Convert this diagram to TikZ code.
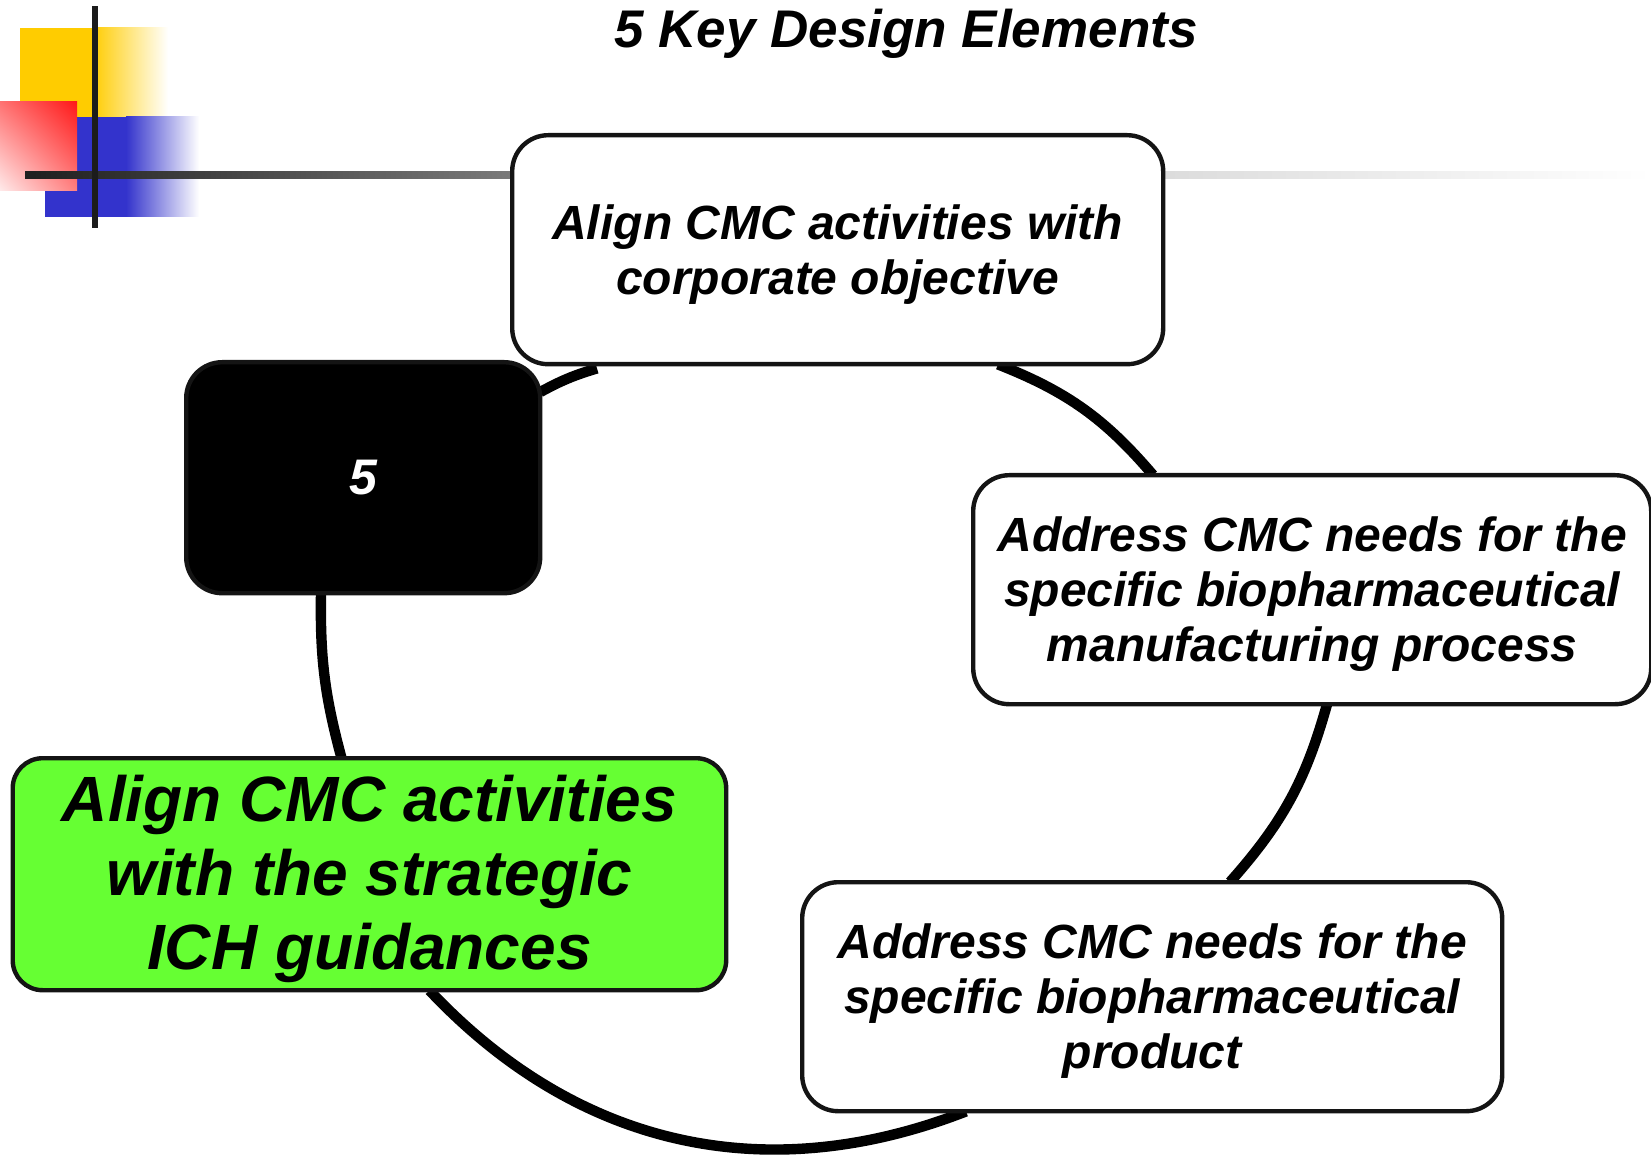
\documentclass[tikz,border=0pt]{standalone}
\usepackage{fontspec}
\setmainfont{Liberation Sans}
\usetikzlibrary{calc,backgrounds,shadings}
\definecolor{dyellow}{RGB}{255,204,0}
\definecolor{dblue}{RGB}{51,51,204}
\definecolor{dred}{RGB}{255,25,25}
\definecolor{dgreen}{RGB}{102,255,51}
\definecolor{dline}{RGB}{28,28,28}
\definecolor{boxline}{RGB}{20,20,20}
\newcommand{\firstup}[1]{\rule{0pt}{#1}}
\tikzset{
  stagebox/.style={draw=boxline, line width=2.2pt, fill=white, rounded corners=18pt,
    anchor=north west, inner sep=0pt, align=center,
    font=\fontsize{24}{27.5}\selectfont\bfseries\itshape},
  ring/.style={line width=5.2pt, draw=black},
}
\begin{document}
\begin{tikzpicture}[x=0.5pt,y=-0.5pt]
\useasboundingbox (0,0) rectangle (1651,1155);
% decoration top-left
\fill[dyellow] (20,28) rectangle (92,117);
\shade[left color=dyellow, right color=white] (92,28) rectangle (168,117);
\fill[dblue] (45,117) rectangle (126,217);
\shade[left color=dblue, right color=white] (126,117) rectangle (199,217);
\shade[upper right=dred, upper left=red!55!white, lower right=red!50!white, lower left=red!8!white] (0,102) rectangle (77,191);
\shade[left color=black!88, right color=black!52] (25,171.5) rectangle (512,178.5);
\shade[left color=black!14, right color=white] (1158,171.5) rectangle (1651,178.5);
\fill[dline] (92,6) rectangle (98,228);
% title
\node[anchor=base, font=\fontsize{26.5}{30}\selectfont\bfseries\itshape] (title) at (906,48) {5 Key Design Elements};
% boxes
\node[stagebox, minimum width=325.5pt, minimum height=114.5pt] (top) at (510,133)
  {\firstup{22pt}Align CMC activities with\\corporate objective};
\node[stagebox, minimum width=339pt, minimum height=114.5pt] (right) at (971,473)
  {\firstup{22pt}Address CMC needs for the\\specific biopharmaceutical\\manufacturing process};
\node[stagebox, minimum width=350pt, minimum height=114.5pt] (bottom) at (800,880)
  {\firstup{22pt}Address CMC needs for the\\specific biopharmaceutical\\product};
\node[stagebox, fill=dgreen, rounded corners=15pt, minimum width=356.75pt, minimum height=116pt,
  font=\fontsize{32}{36.8}\selectfont\bfseries\itshape] (green) at (10.5,756)
  {\firstup{28pt}Align CMC activities\\with the strategic\\ICH guidances};
\node[stagebox, fill=black, text=white, minimum width=177pt, minimum height=115.5pt,
  font=\fontsize{25}{28}\selectfont\bfseries\itshape] (five) at (184,360) {5};
% ring connectors
\begin{scope}[on background layer]
\draw[ring] ($(five.north east)+(-2,32)$) to[bend left=6] ($(top.south west)+(87,2)$);
\draw[ring] ($(top.south west)+(488,-2)$) to[bend left=14] ($(right.north west)+(182,2)$);
\draw[ring] ($(right.south west)+(356,-2)$) to[bend left=13] ($(bottom.north west)+(430,2)$);
\draw[ring] ($(bottom.south west)+(166,-2)$) to[bend left=34] ($(green.south west)+(419,-2)$);
\draw[ring] ($(green.north west)+(331,2)$) to[bend left=8] ($(five.south west)+(137,-2)$);
\end{scope}
\end{tikzpicture}
\end{document}
